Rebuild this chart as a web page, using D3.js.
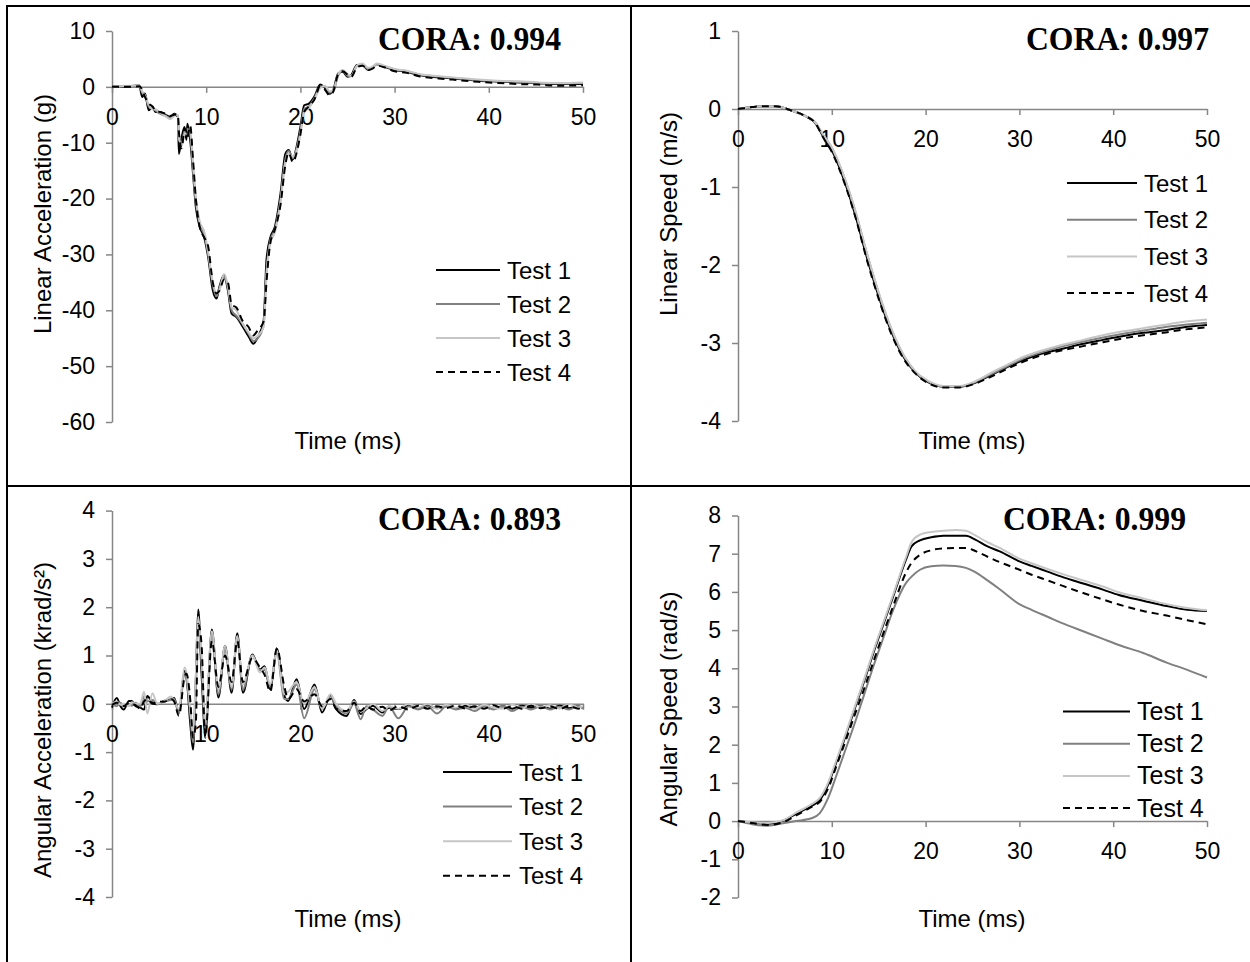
<!DOCTYPE html>
<html>
<head>
<meta charset="utf-8">
<script src="https://cdn.jsdelivr.net/npm/d3@7"></script>
<style>
  body { margin: 0; background: #fff; }
  svg { display: block; }
</style>
</head>
<body>
<div id="chart"></div>
<script>
// ---- data ----
const testNames = ["Test 1", "Test 2", "Test 3", "Test 4"];
const timeTicks = [0, 10, 20, 30, 40, 50];

// Linear acceleration (g)
const accTicks = [10, 0, -10, -20, -30, -40, -50, -60];
const accTime = [0, 1, 2, 2.9, 3.2, 3.5, 3.9, 4.3, 4.6, 5.1,
  5.7, 6.2, 6.6, 7.0, 7.1, 7.4, 7.7, 7.9, 8.0, 8.3,
  8.6, 8.9, 9.3, 9.8, 10.2, 10.7, 11.1, 11.4, 11.9, 12.3,
  12.7, 13.2, 13.9, 14.5, 15.0, 15.5, 16.1, 16.4, 16.8, 17.3,
  17.9, 18.4, 18.75, 19.2, 19.6, 20.0, 20.4, 20.9, 21.5, 22.1,
  22.6, 23.1, 23.5, 24.0, 24.5, 25.0, 25.4, 26.0, 26.6, 27.2,
  27.7, 28.1, 28.9, 30, 31.3, 32.6, 34.7, 36.8, 38.9, 41,
  43.2, 45.3, 47.4, 50];
const accTest1 = [0, 0, 0.1, 0.3, -1.8, -1.2, -4.2, -3.6, -4.5, -4.5,
  -5.0, -5.4, -4.8, -5.4, -12, -9, -7.2, -9.5, -6.6, -9.5,
  -15.5, -21.5, -25, -27, -30.4, -36.4, -37.9, -35.8, -33.7, -36.4,
  -40.6, -41.2, -43, -44.7, -46, -44.7, -41.8, -31, -27, -25,
  -19, -12, -11.3, -13, -10.7, -7.2, -3.3, -3.0, -1.7, 0.4,
  -0.2, -1.25, -0.5, 2.4, 2.7, 1.8, 2.1, 3.9, 3.9, 3.0,
  3.6, 4.1, 3.6, 3.0, 2.7, 2.1, 1.7, 1.4, 1.1, 0.95,
  0.8, 0.65, 0.5, 0.5];
const accTest2 = [0, 0.1, 0.1, 0.2, -1.0, -1.6, -3.5, -3.9, -4.2, -4.8,
  -5.2, -5.6, -5.0, -5.2, -9.5, -10, -8, -8.5, -7.5, -8.5,
  -14.5, -20.5, -24.5, -26.5, -29.8, -35.5, -37.5, -36, -34, -36,
  -40, -41, -42.5, -44.2, -45.5, -45, -42.5, -33, -27.5, -25.5,
  -20, -13, -11.5, -12.8, -11, -8, -4, -3.5, -2, 0,
  0, -1.0, -0.8, 2.0, 2.9, 2.0, 1.9, 3.7, 4.0, 3.2,
  3.5, 4.0, 3.7, 3.1, 2.8, 2.2, 1.8, 1.5, 1.2, 1.0,
  0.85, 0.7, 0.6, 0.7];
const accTest3 = [0, 0.1, 0.2, 0.3, -0.8, -1.5, -3.2, -4.0, -4.0, -4.6,
  -5.3, -5.8, -5.2, -5.0, -9, -10.5, -8.5, -8, -8, -8,
  -14, -20, -24, -26, -29.5, -35, -37, -36.5, -33.5, -35.5,
  -39.5, -40, -42.5, -44, -45, -44.5, -43, -34, -28, -26,
  -20.5, -13.5, -12, -12.5, -11.5, -8.5, -4.5, -3.8, -2.2, -0.2,
  0.2, -0.8, -0.6, 2.2, 3.0, 2.3, 2.0, 3.8, 4.2, 3.4,
  3.6, 4.2, 3.8, 3.2, 2.9, 2.3, 1.9, 1.6, 1.3, 1.1,
  1.0, 0.8, 0.7, 0.8];
const accTest4 = [0, 0, 0, 0.1, -0.5, -1.8, -3.0, -3.5, -4.2, -4.5,
  -4.8, -5.2, -5.0, -5.0, -8, -11, -7.5, -8, -9, -7,
  -13, -20, -25, -27, -28.5, -35, -37, -36.5, -34.5, -35,
  -39, -39.5, -42, -43, -44.5, -43.5, -42, -35, -28, -25.5,
  -21, -14, -11.8, -13.5, -11.8, -8.5, -4.5, -3.5, -2.2, 0.1,
  -0.5, -1.5, -0.8, 2.2, 2.8, 2.2, 1.8, 3.5, 3.8, 3.0,
  3.3, 3.8, 3.5, 2.8, 2.5, 1.9, 1.5, 1.2, 0.9, 0.7,
  0.5, 0.4, 0.2, 0.3];

// Linear speed (m/s)
const linTicks = [1, 0, -1, -2, -3, -4];
const linTime = [0, 1.5, 2.6, 4, 5.7, 7, 8.3, 9.1, 10, 11.3,
  12.55, 13.8, 15.1, 16.4, 17.7, 18.9, 20.2, 21.9, 23.6, 25.3,
  27, 28.7, 30.4, 32.6, 34.7, 36.8, 38.9, 41.1, 43.2, 45.3,
  47.4, 50];
const linTest1 = [0, 0.025, 0.035, 0.035, -0.02, -0.08, -0.19, -0.36, -0.53, -0.91,
  -1.38, -1.93, -2.44, -2.87, -3.19, -3.38, -3.5, -3.56, -3.56, -3.51,
  -3.41, -3.31, -3.22, -3.13, -3.07, -3.01, -2.96, -2.91, -2.87, -2.84,
  -2.8, -2.77];
const linTest2 = [0, 0.025, 0.035, 0.035, -0.02, -0.08, -0.18, -0.34, -0.5, -0.87,
  -1.33, -1.88, -2.4, -2.84, -3.17, -3.37, -3.49, -3.56, -3.56, -3.5,
  -3.4, -3.3, -3.2, -3.11, -3.04, -2.98, -2.93, -2.88, -2.84, -2.8,
  -2.77, -2.74];
const linTest3 = [0, 0.025, 0.035, 0.035, -0.02, -0.08, -0.18, -0.33, -0.49, -0.86,
  -1.32, -1.87, -2.39, -2.83, -3.16, -3.36, -3.48, -3.55, -3.55, -3.49,
  -3.38, -3.28, -3.18, -3.09, -3.02, -2.96, -2.9, -2.85, -2.81, -2.77,
  -2.73, -2.7];
const linTest4 = [0, 0.025, 0.035, 0.035, -0.02, -0.08, -0.19, -0.37, -0.55, -0.93,
  -1.4, -1.96, -2.47, -2.9, -3.21, -3.39, -3.51, -3.57, -3.57, -3.52,
  -3.43, -3.33, -3.24, -3.15, -3.09, -3.04, -2.99, -2.94, -2.9, -2.87,
  -2.83, -2.8];

// Angular acceleration (krad/s²)
const angAccTicks = [4, 3, 2, 1, 0, -1, -2, -3, -4];
const angAccTime = [0, 0.5, 0.9, 1.25, 1.8, 2.1, 2.5, 3.0, 3.4, 3.75,
  4.3, 4.8, 5.5, 6.25, 6.6, 7.1, 7.7, 7.9, 8.3, 8.6,
  8.9, 9.15, 9.5, 9.9, 10.6, 11.3, 12.0, 12.7, 13.3, 13.9,
  14.9, 15.7, 16.2, 16.8, 17.5, 18.3, 18.7, 19.6, 20.4, 21.5,
  22.3, 23.2, 23.8, 24.9, 25.7, 26.4, 27.0, 27.7, 28.7, 29.4,
  30.4, 31.5, 32.5, 33.5, 34.5, 35.5, 36.5, 37.5, 38.5, 39.5,
  40.5, 41.5, 42.5, 43.5, 44.5, 45.5, 46.5, 47.5, 48.5, 49.5,
  50];
const angAccTest1 = [-0.08, 0.12, -0.05, -0.12, 0.06, 0.06, -0.05, -0.08, -0.12, 0.16,
  0.02, -0.01, 0.06, 0.09, 0.12, -0.19, 0.68, 0.57, -0.39, -0.95,
  0.5, 1.95, 0.65, -0.65, 1.54, 0.13, 1.2, 0.23, 1.46, 0.23,
  1.02, 0.71, 0.78, 0.3, 1.14, 0.16, 0.06, 0.51, -0.11, 0.4,
  -0.18, 0.18, -0.11, -0.25, 0.08, -0.21, -0.11, -0.04, -0.18, -0.08,
  -0.11, -0.04, -0.1, -0.03, -0.09, -0.05, -0.1, -0.04, -0.08, -0.03,
  -0.09, -0.05, -0.1, -0.04, -0.08, -0.05, -0.1, -0.04, -0.09, -0.05,
  -0.08];
const angAccTest2 = [0.0, -0.05, 0.02, -0.03, 0.0, -0.04, 0.02, -0.05, 0.15, 0.05,
  0.08, 0.0, 0.05, 0.08, 0.1, -0.2, 0.6, 0.5, -0.2, -0.8,
  0.3, 1.7, 0.9, -0.5, 1.45, 0.2, 1.15, 0.3, 1.4, 0.3,
  1.0, 0.7, 0.7, 0.35, 1.05, 0.1, 0.1, 0.4, -0.3, 0.3,
  -0.1, 0.15, -0.05, -0.2, 0.0, -0.32, -0.05, -0.12, -0.25, -0.05,
  -0.3, -0.05, -0.12, -0.05, -0.2, -0.05, -0.12, -0.08, -0.15, -0.05,
  -0.12, -0.05, -0.15, -0.06, -0.12, -0.05, -0.12, -0.06, -0.12, -0.05,
  -0.1];
const angAccTest3 = [0.0, 0.05, -0.02, 0.0, -0.05, 0.03, 0.0, 0.0, 0.25, -0.2,
  0.22, 0.0, 0.05, 0.15, 0.05, -0.1, 0.75, 0.65, -0.1, -0.6,
  0.6, 1.8, 1.0, -0.4, 1.5, 0.3, 1.2, 0.35, 1.4, 0.4,
  1.0, 0.65, 0.75, 0.4, 1.1, 0.2, 0.25, 0.45, 0.0, 0.35,
  -0.1, 0.2, 0.0, -0.15, 0.05, -0.15, -0.1, 0.0, -0.15, -0.05,
  -0.1, 0.0, -0.08, 0.0, -0.1, -0.02, -0.08, 0.0, -0.1, -0.02,
  -0.08, -0.1, -0.02, -0.1, 0.0, -0.08, -0.03, -0.1, 0.0, -0.08,
  -0.05];
const angAccTest4 = [-0.02, 0.02, 0.0, -0.05, 0.02, 0.0, -0.03, -0.1, 0.05, 0.1,
  0.0, 0.05, 0.04, 0.1, 0.05, -0.25, 0.55, 0.62, 0.1, -0.7,
  -0.4, 1.65, 1.25, -0.7, 1.3, 0.35, 1.0, 0.45, 1.3, 0.45,
  0.95, 0.75, 0.6, 0.25, 1.15, 0.35, 0.1, 0.3, 0.05, 0.2,
  -0.05, 0.1, -0.1, -0.15, 0.02, -0.15, -0.05, -0.12, -0.06, -0.14,
  -0.05, -0.12, -0.04, -0.1, -0.05, -0.09, -0.03, -0.1, -0.05, -0.1,
  -0.03, -0.1, -0.05, -0.1, -0.04, -0.09, -0.05, -0.11, -0.04, -0.1,
  -0.06];

// Angular speed (rad/s)
const angSpdTicks = [8, 7, 6, 5, 4, 3, 2, 1, 0, -1, -2];
const angSpdTime = [0, 1.5, 3.2, 4.9, 6.2, 7.9, 8.7, 9.6, 10.5, 11.5,
  12.5, 13.5, 14.5, 15.5, 16.5, 17.9, 18.5, 19.4, 20.6, 21.9,
  23.2, 24.3, 25.3, 26.6, 27.9, 30, 31.3, 33, 34.7, 36.8,
  38.9, 40.6, 43.2, 45.7, 47.9, 50];
const angSpdTest1 = [0, -0.04, -0.07, 0.02, 0.19, 0.41, 0.54, 0.95, 1.55, 2.25,
  2.98, 3.7, 4.45, 5.15, 5.85, 6.84, 7.19, 7.35, 7.43, 7.47,
  7.47, 7.47, 7.37, 7.19, 7.06, 6.8, 6.68, 6.53, 6.38, 6.22,
  6.06, 5.92, 5.77, 5.63, 5.53, 5.5];
const angSpdTest2 = [0, -0.08, -0.12, -0.05, 0.0, 0.08, 0.2, 0.6, 1.2, 1.9,
  2.6, 3.35, 4.1, 4.8, 5.5, 6.23, 6.4, 6.58, 6.67, 6.69,
  6.68, 6.63, 6.52, 6.3, 6.07, 5.68, 5.53, 5.35, 5.17, 4.97,
  4.77, 4.61, 4.4, 4.15, 3.96, 3.76];
const angSpdTest3 = [0, -0.03, -0.05, 0.03, 0.22, 0.45, 0.6, 1.0, 1.6, 2.3,
  3.03, 3.75, 4.5, 5.2, 5.9, 6.9, 7.3, 7.5, 7.57, 7.6,
  7.62, 7.6, 7.48, 7.3, 7.15, 6.87, 6.75, 6.6, 6.46, 6.3,
  6.14, 5.99, 5.83, 5.68, 5.58, 5.52];
const angSpdTest4 = [0, -0.05, -0.1, -0.02, 0.15, 0.38, 0.5, 0.85, 1.45, 2.12,
  2.82, 3.5, 4.22, 4.92, 5.6, 6.5, 6.76, 6.97, 7.09, 7.14,
  7.15, 7.15, 7.07, 6.92, 6.78, 6.58, 6.45, 6.3, 6.15, 5.97,
  5.8, 5.67, 5.5, 5.38, 5.26, 5.15];

const coraScores = ["0.994", "0.997", "0.893", "0.999"];

// ---- drawing ----
const width = 1250;
const height = 962;
const axisColor = "#868686";
const sans = "'Liberation Sans', Arial, sans-serif";
const serif = "'Liberation Serif', 'Times New Roman', serif";

const seriesStyle = [
  {color: "#000000", dash: null},
  {color: "#808080", dash: null},
  {color: "#c6c6c6", dash: null},
  {color: "#000000", dash: "7,5"}
];

const panels = [
  {time: accTime, tests: [accTest1, accTest2, accTest3, accTest4], ticks: accTicks,
   yTitle: "Linear Acceleration (g)", cora: coraScores[0],
   x0: 112, x1: 583, yTop: 31, yBot: 422, yTitleX: 51, yTitleY: 214,
   xTitleX: 348, xTitleY: 449, coraX: 378, coraY: 50,
   legX0: 436, legX1: 500, legY: 270, legStep: 34, legFont: 24},
  {time: linTime, tests: [linTest1, linTest2, linTest3, linTest4], ticks: linTicks,
   yTitle: "Linear Speed (m/s)", cora: coraScores[1],
   x0: 738, x1: 1207, yTop: 31, yBot: 421, yTitleX: 677, yTitleY: 214,
   xTitleX: 972, xTitleY: 449, coraX: 1026, coraY: 50,
   legX0: 1067, legX1: 1137, legY: 183, legStep: 36.7, legFont: 24},
  {time: angAccTime, tests: [angAccTest1, angAccTest2, angAccTest3, angAccTest4], ticks: angAccTicks,
   yTitle: "Angular Acceleration (krad/s²)", cora: coraScores[2],
   x0: 112, x1: 583, yTop: 510.6, yBot: 897, yTitleX: 51, yTitleY: 720,
   xTitleX: 348, xTitleY: 927, coraX: 378, coraY: 530,
   legX0: 443, legX1: 512, legY: 772, legStep: 34.6, legFont: 24},
  {time: angSpdTime, tests: [angSpdTest1, angSpdTest2, angSpdTest3, angSpdTest4], ticks: angSpdTicks,
   yTitle: "Angular Speed (rad/s)", cora: coraScores[3],
   x0: 738, x1: 1207, yTop: 515.5, yBot: 897.5, yTitleX: 677, yTitleY: 709,
   xTitleX: 972, xTitleY: 927, coraX: 1003, coraY: 530,
   legX0: 1063, legX1: 1130, legY: 711.5, legStep: 32.2, legFont: 25}
];

const svg = d3.select("#chart").append("svg")
  .attr("width", width)
  .attr("height", height)
  .style("background", "#fff");

// frame lines of the table around the four charts
const frame = svg.append("g").attr("stroke", "#000").attr("stroke-width", 2);
frame.append("line").attr("x1", 7).attr("x2", 7).attr("y1", 6).attr("y2", height);
frame.append("line").attr("x1", 6).attr("x2", width).attr("y1", 6).attr("y2", 6);
frame.append("line").attr("x1", 631).attr("x2", 631).attr("y1", 6).attr("y2", height);
frame.append("line").attr("x1", 6).attr("x2", width).attr("y1", 486).attr("y2", 486);

function drawPanel(p) {
  const g = svg.append("g");
  const x = d3.scaleLinear().domain([0, 50]).range([p.x0, p.x1]);
  const y = d3.scaleLinear().domain([d3.min(p.ticks), d3.max(p.ticks)]).range([p.yBot, p.yTop]);

  // y axis
  const yAxis = g.append("g")
    .attr("transform", `translate(${p.x0},0)`)
    .call(d3.axisLeft(y).tickValues(p.ticks).tickSize(6).tickSizeOuter(0)
      .tickPadding(11).tickFormat(d => String(d)));
  // x axis on the zero line
  const xAxis = g.append("g")
    .attr("transform", `translate(0,${y(0)})`)
    .call(d3.axisBottom(x).tickValues(timeTicks).tickSize(6).tickSizeOuter(0)
      .tickPadding(16).tickFormat(d => String(d)));

  [yAxis, xAxis].forEach(a => {
    a.select(".domain").attr("stroke", axisColor).attr("stroke-width", 1.5);
    a.selectAll(".tick line").attr("stroke", axisColor).attr("stroke-width", 1.5);
    a.selectAll(".tick text").attr("fill", "#000")
      .style("font-family", sans).style("font-size", "23px");
  });

  // series
  const line = d3.line()
    .x((d, i) => x(p.time[i]))
    .y(d => y(d))
    .curve(d3.curveMonotoneX);
  p.tests.forEach((vals, i) => {
    g.append("path")
      .datum(vals)
      .attr("fill", "none")
      .attr("stroke", seriesStyle[i].color)
      .attr("stroke-width", 2)
      .attr("stroke-dasharray", seriesStyle[i].dash)
      .attr("stroke-linejoin", "round")
      .attr("d", line);
  });

  // axis titles
  g.append("text")
    .attr("x", p.xTitleX).attr("y", p.xTitleY)
    .attr("text-anchor", "middle")
    .style("font-family", sans).style("font-size", "24px")
    .text("Time (ms)");
  g.append("text")
    .attr("transform", `translate(${p.yTitleX},${p.yTitleY}) rotate(-90)`)
    .attr("text-anchor", "middle")
    .style("font-family", sans).style("font-size", "24px")
    .text(p.yTitle);

  // CORA score (tall, narrow bold serif as in the source figure)
  g.append("text")
    .attr("x", p.coraX).attr("y", p.coraY)
    .attr("textLength", 183)
    .attr("lengthAdjust", "spacingAndGlyphs")
    .style("font-family", serif).style("font-size", "34px").style("font-weight", "bold")
    .text("CORA: " + p.cora);

  // legend
  const leg = g.append("g");
  testNames.forEach((name, i) => {
    const ly = p.legY + i * p.legStep;
    leg.append("line")
      .attr("x1", p.legX0).attr("x2", p.legX1)
      .attr("y1", ly).attr("y2", ly)
      .attr("stroke", seriesStyle[i].color)
      .attr("stroke-width", 2)
      .attr("stroke-dasharray", seriesStyle[i].dash);
    leg.append("text")
      .attr("x", p.legX1 + 7).attr("y", ly + 8.5)
      .style("font-family", sans).style("font-size", p.legFont + "px")
      .text(name);
  });
}

panels.forEach(drawPanel);
</script>
</body>
</html>
